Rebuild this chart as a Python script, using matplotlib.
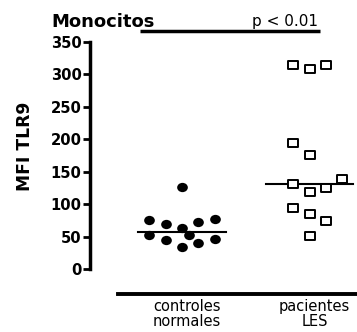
import numpy as np
import matplotlib
matplotlib.use("Agg")
import matplotlib.pyplot as plt
from matplotlib.path import Path
from matplotlib.transforms import ScaledTranslation

# data (MFI TLR9, monocitos)
groups = ["controles\nnormales", "pacientes\nLES"]
controles = [126.6, 75.4, 68.8, 62.6, 71.8, 77.4, 52.3, 44.6, 52.3, 40.5, 46.6, 33.4]
pacientes = [313.8, 308.8, 313.8, 194.9, 175.4, 131.0, 118.9, 124.2, 139.5, 94.3, 84.2, 74.3, 51.2]
yticks = [0, 50, 100, 150, 200, 250, 300, 350]
p_text = "p < 0.01"

# scatter layout (column slots, like a prism dot plot)
ctrl_slot = [0, -2, -1, 0, 1, 2, -2, -1, 0.45, 1, 2, 0]
les_slot = [-1, 0, 1, -1, 0, -1, 0, 1, 2, -1, 0, 1, 0]
slot_w = 0.128

# slightly wide markers, the original picture is stretched horizontally
circ = Path.unit_circle()
ellipse = Path(circ.vertices * [1.15, 1.0], circ.codes)
rect = Path([(-0.55, -0.5), (0.55, -0.5), (0.55, 0.5), (-0.55, 0.5), (-0.55, -0.5)],
            [Path.MOVETO, Path.LINETO, Path.LINETO, Path.LINETO, Path.CLOSEPOLY])

fig = plt.figure(figsize=(3.57, 3.32), dpi=100)
ax = fig.add_axes([90 / 357, (332 - 293.5) / 332, 267 / 357, (293.5 - 42) / 332])

x0 = np.zeros(len(controles)) + np.array(ctrl_slot) * slot_w
x1 = np.ones(len(pacientes)) + np.array(les_slot) * slot_w
ax.plot(x0, controles, ls="none", marker=ellipse, ms=7.7, mfc="black", mec="black",
        mew=0, zorder=3, clip_on=False)
ax.plot(x1, pacientes, ls="none", marker=rect, ms=6.6, mfc="white", mec="black",
        mew=1.4, zorder=3, clip_on=False)

# median lines
for i, vals in enumerate([controles, pacientes]):
    m = np.median(vals)
    ax.plot([i - 0.345, i + 0.345], [m, m], color="black", lw=1.5, zorder=2)

ax.set_xlim(-0.7216, 1.3725)
ax.set_ylim(-37.8, 350)

for s in ["top", "right"]:
    ax.spines[s].set_visible(False)
ax.spines["left"].set_bounds(0, 350)
ax.spines["left"].set_linewidth(2.5)
ax.spines["bottom"].set_bounds(-0.5, 1.5)
ax.spines["bottom"].set_linewidth(2.8)

ax.set_yticks(yticks)
ax.set_yticklabels([str(v) for v in yticks], fontweight="bold", fontsize=10.6)
ax.tick_params(axis="y", length=5, width=2, pad=1)

ax.set_xticks([0, 1])
ax.set_xticklabels(groups, fontsize=10.5, linespacing=0.98)
ax.tick_params(axis="x", length=0, pad=4)
shift = ScaledTranslation(5 / 100, 0, fig.dpi_scale_trans)
for lbl in ax.get_xticklabels():
    lbl.set_transform(lbl.get_transform() + shift)

# significance bar and p value
ax.plot([-0.329, 1.082], [367, 367], color="black", lw=2.5, clip_on=False,
        solid_capstyle="butt")
ax.text(1.065, 370, p_text, ha="right", va="bottom", fontsize=11)

fig.text(51 / 357, (332 - 26.7) / 332, "Monocitos", fontsize=13, fontweight="bold",
         ha="left", va="baseline")
fig.text(25 / 357, (332 - 146) / 332, "MFI TLR9", rotation=90, fontsize=12.3,
         fontweight="bold", ha="center", va="center")

fig.savefig("out.png", dpi=100)
